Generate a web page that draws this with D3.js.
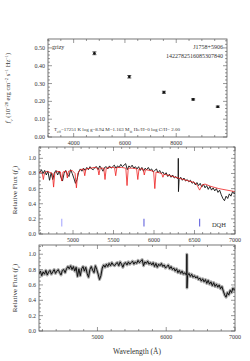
<!DOCTYPE html>
<html>
<head>
<meta charset="utf-8">
<script src="https://cdn.jsdelivr.net/npm/d3@7"></script>
<style>
  body { margin: 0; background: #fff; }
  svg { display: block; }
  text { font-family: "Liberation Serif", "DejaVu Serif", serif; fill: #333; }
</style>
</head>
<body>
<div id="chart"></div>
<script>
// photometry (grizy)
let bandWave = [4810, 6170, 7520, 8660, 9620];
let bandFlux = [0.470, 0.338, 0.251, 0.211, 0.170];
let bandErr = [0.008, 0.007, 0.006, 0.004, 0.004];

// observed spectrum, 20 A grid from 4150 A
let specStart = 4150, specStep = 20;
let specFlux = [
  0.74,0.78,0.72,0.77,0.74,0.79,0.73,0.77,0.79,0.74,
  0.77,0.80,0.75,0.78,0.80,0.76,0.73,0.79,0.80,0.76,
  0.81,0.84,0.81,0.85,0.80,0.84,0.78,0.83,0.71,0.81,
  0.72,0.81,0.84,0.78,0.83,0.75,0.70,0.80,0.84,0.79,
  0.76,0.85,0.80,0.74,0.67,0.72,0.82,0.86,0.83,0.87,
  0.84,0.88,0.85,0.89,0.86,0.85,0.88,0.89,0.85,0.90,
  0.87,0.83,0.88,0.89,0.86,0.90,0.87,0.89,0.91,0.87,
  0.90,0.88,0.92,0.89,0.91,0.93,0.85,0.90,0.88,0.91,
  0.87,0.89,0.86,0.89,0.84,0.88,0.83,0.87,0.85,0.88,
  0.84,0.86,0.82,0.84,0.86,0.81,0.84,0.80,0.82,0.78,
  0.81,0.76,0.79,0.75,0.78,0.74,0.76,0.73,0.72,0.75,
  0.71,0.74,0.70,0.72,0.69,0.71,0.67,0.69,0.65,0.68,
  0.64,0.67,0.62,0.66,0.61,0.64,0.59,0.63,0.58,0.61,
  0.57,0.60,0.55,0.58,0.52,0.47,0.44,0.50,0.47,0.53,
  0.50,0.56,0.53,0.56
];
// sky line residual near 6300 A
let skyWave = [6298, 6300, 6302];
let skyFlux = [0.74, 1.00, 0.56];

// model spectrum (red)
let modelWave = [4580,4600,4620,4634,4648,4680,4700,4745,4760,4775,4800,4845,4861,4877,4915,4930,4945,4990,
  5025,5042,5058,5090,5130,5145,5160,5220,5260,5305,5320,5335,5380,5395,5410,5460,5512,5527,5542,5600,
  5652,5667,5682,5740,5785,5800,5815,5865,5880,5895,5950,5995,6010,6025,6095,6110,6125,6200,6300,6400,
  6500,6530,6563,6596,6630,6700,6800,6900,7000];
let modelFlux = [0.81,0.82,0.80,0.72,0.81,0.83,0.82,0.80,0.62,0.80,0.83,0.82,0.70,0.82,0.83,0.74,0.83,0.84,
  0.80,0.61,0.80,0.85,0.86,0.77,0.86,0.87,0.88,0.87,0.78,0.87,0.87,0.72,0.87,0.88,0.88,0.77,0.88,0.88,
  0.87,0.64,0.87,0.87,0.86,0.72,0.86,0.86,0.78,0.85,0.84,0.83,0.60,0.82,0.80,0.75,0.79,0.77,0.74,0.71,
  0.68,0.65,0.58,0.65,0.66,0.63,0.60,0.58,0.56];

// marked lines
let lineWave = [4861, 5876, 6563];
let lineColor = ["#b0b0ff", "#7070e0", "#7070e0"];

let width = 250, height = 361;

let svg = d3.select("#chart")
  .append("svg")
  .attr("width", width)
  .attr("height", height);

let spectrum = d3.range(specFlux.length).map(i => ({w: specStart + i * specStep, f: specFlux[i]}));
skyWave.forEach((w, i) => spectrum.push({w: w, f: skyFlux[i]}));
spectrum.sort((a, b) => a.w - b.w);
let model = modelWave.map((w, i) => ({w: w, f: modelFlux[i]}));

// draws box + inward ticks on all four sides, labels on left/bottom
function frame(g, x, y, xMaj, xMin, yMaj, yMin, xFmt, yFmt) {
  let [x0, x1] = x.range(), [y1, y0] = y.range();
  let xd = x.domain(), yd = y.domain();
  g.append("rect")
    .attr("x", x0).attr("y", y0)
    .attr("width", x1 - x0).attr("height", y1 - y0)
    .attr("fill", "none").attr("stroke", "#555").attr("stroke-width", 0.8);

  let ticks = g.append("g").attr("stroke", "#555").attr("stroke-width", 0.6);
  let xt = d3.range(Math.ceil(xd[0] / xMin) * xMin, xd[1] + 1e-6, xMin);
  xt.forEach(v => {
    let len = (Math.abs(v / xMaj - Math.round(v / xMaj)) < 1e-6) ? 4 : 2;
    ticks.append("line").attr("x1", x(v)).attr("x2", x(v)).attr("y1", y1).attr("y2", y1 - len);
    ticks.append("line").attr("x1", x(v)).attr("x2", x(v)).attr("y1", y0).attr("y2", y0 + len);
  });
  let yt = d3.range(Math.ceil(yd[0] / yMin - 1e-6) * yMin, yd[1] + 1e-6, yMin);
  yt.forEach(v => {
    let len = (Math.abs(v / yMaj - Math.round(v / yMaj)) < 1e-6) ? 4 : 2;
    ticks.append("line").attr("x1", x0).attr("x2", x0 + len).attr("y1", y(v)).attr("y2", y(v));
    ticks.append("line").attr("x1", x1).attr("x2", x1 - len).attr("y1", y(v)).attr("y2", y(v));
  });

  let xl = d3.range(Math.ceil(xd[0] / xMaj) * xMaj, xd[1] + 1e-6, xMaj);
  g.selectAll(null).data(xl).enter().append("text")
    .attr("x", d => x(d)).attr("y", y1 + 8)
    .attr("text-anchor", "middle").style("font-size", "6px")
    .text(xFmt);
  let yl = d3.range(0, yd[1] + 1e-6, yMaj);
  g.selectAll(null).data(yl).enter().append("text")
    .attr("x", x0 - 3).attr("y", d => y(d) + 2)
    .attr("text-anchor", "end").style("font-size", "6px")
    .text(yFmt);
}

// ---- top panel: photometry
let x1 = d3.scaleLinear().domain([3000, 9980]).range([48, 227]);
let y1 = d3.scaleLinear().domain([0, 0.55]).range([137, 39]);
let photG = svg.append("g");
frame(photG, x1, y1, 2000, 500, 0.1, 0.02, d3.format("d"), d3.format(".2f"));

let pts = photG.selectAll(".pt").data(bandWave).enter().append("g");
pts.append("line")
  .attr("x1", d => x1(d)).attr("x2", d => x1(d))
  .attr("y1", (d, i) => y1(bandFlux[i] - bandErr[i]))
  .attr("y2", (d, i) => y1(bandFlux[i] + bandErr[i]))
  .attr("stroke", "#111").attr("stroke-width", 0.7);
pts.append("line")
  .attr("x1", d => x1(d) - 2).attr("x2", d => x1(d) + 2)
  .attr("y1", (d, i) => y1(bandFlux[i] + bandErr[i]))
  .attr("y2", (d, i) => y1(bandFlux[i] + bandErr[i]))
  .attr("stroke", "#111").attr("stroke-width", 0.7);
pts.append("line")
  .attr("x1", d => x1(d) - 2).attr("x2", d => x1(d) + 2)
  .attr("y1", (d, i) => y1(bandFlux[i] - bandErr[i]))
  .attr("y2", (d, i) => y1(bandFlux[i] - bandErr[i]))
  .attr("stroke", "#111").attr("stroke-width", 0.7);
pts.append("circle")
  .attr("cx", d => x1(d)).attr("cy", (d, i) => y1(bandFlux[i]))
  .attr("r", 1.3).attr("fill", "#111");

photG.append("text").attr("x", 52).attr("y", 49).style("font-size", "6px").text("grizy");
photG.append("text").attr("x", 223).attr("y", 49).attr("text-anchor", "end").style("font-size", "6px").text("J1758+5906");
photG.append("text").attr("x", 223).attr("y", 58).attr("text-anchor", "end").style("font-size", "6px").text("1422782516085307840");

let par = photG.append("text").attr("x", 54).attr("y", 131).style("font-size", "5px");
par.append("tspan").text("T");
par.append("tspan").attr("baseline-shift", "sub").style("font-size", "3.5px").text("eff");
par.append("tspan").text("=17251 K log g=8.94 M=1.163 M");
par.append("tspan").attr("baseline-shift", "sub").style("font-size", "3.5px").text("\u2299");
par.append("tspan").text(" He/H=0  log C/H= 2.00");

let ylab = photG.append("text")
  .attr("transform", "translate(10,88) rotate(-90)")
  .attr("text-anchor", "middle").style("font-size", "6.5px");
ylab.append("tspan").style("font-style", "italic").text("f");
ylab.append("tspan").attr("baseline-shift", "sub").style("font-size", "4.5px").text("\u03bd");
ylab.append("tspan").text(" (10");
ylab.append("tspan").attr("baseline-shift", "super").style("font-size", "4.5px").text("\u221228");
ylab.append("tspan").text(" erg cm");
ylab.append("tspan").attr("baseline-shift", "super").style("font-size", "4.5px").text("\u22122");
ylab.append("tspan").text(" s");
ylab.append("tspan").attr("baseline-shift", "super").style("font-size", "4.5px").text("\u22121");
ylab.append("tspan").text(" Hz");
ylab.append("tspan").attr("baseline-shift", "super").style("font-size", "4.5px").text("\u22121");
ylab.append("tspan").text(")");

function fluxLabel(g, cy) {
  let t = g.append("text")
    .attr("transform", `translate(17,${cy}) rotate(-90)`)
    .attr("text-anchor", "middle").style("font-size", "7px");
  t.append("tspan").text("Relative Flux (");
  t.append("tspan").style("font-style", "italic").text("f");
  t.append("tspan").attr("baseline-shift", "sub").style("font-size", "5px").text("\u03bd");
  t.append("tspan").text(")");
}

// ---- middle panel: spectrum with model
let x2 = d3.scaleLinear().domain([4580, 7000]).range([39, 235]);
let y2 = d3.scaleLinear().domain([0, 1.15]).range([234, 147]);
let midG = svg.append("g");
svg.append("clipPath").attr("id", "clip2").append("rect")
  .attr("x", 39).attr("y", 147).attr("width", 196).attr("height", 87);

let line2 = d3.line().x(d => x2(d.w)).y(d => y2(d.f));
midG.append("path").datum(spectrum).attr("clip-path", "url(#clip2)")
  .attr("d", line2).attr("fill", "none").attr("stroke", "#111")
  .attr("stroke-width", 0.9).attr("stroke-linejoin", "round");
midG.append("path").datum(model).attr("clip-path", "url(#clip2)")
  .attr("d", line2).attr("fill", "none").attr("stroke", "#ee2020")
  .attr("stroke-width", 0.8).attr("stroke-linejoin", "round");

midG.selectAll(".lm").data(lineWave).enter().append("line")
  .attr("x1", d => x2(d)).attr("x2", d => x2(d))
  .attr("y1", y2(0.1)).attr("y2", y2(0.2))
  .attr("stroke", (d, i) => lineColor[i]).attr("stroke-width", 1.2);
midG.append("text").attr("x", 226).attr("y", 227).attr("text-anchor", "end")
  .style("font-size", "6.5px").text("DQH");

frame(midG, x2, y2, 500, 100, 0.2, 0.05, d3.format("d"), d3.format(".1f"));
fluxLabel(midG, 190);

// ---- bottom panel: spectrum only
let x3 = d3.scaleLinear().domain([4150, 7000]).range([39, 235]);
let y3 = d3.scaleLinear().domain([0, 1.12]).range([331, 245]);
let botG = svg.append("g");
svg.append("clipPath").attr("id", "clip3").append("rect")
  .attr("x", 39).attr("y", 245).attr("width", 196).attr("height", 86);

let line3 = d3.line().x(d => x3(d.w)).y(d => y3(d.f));
botG.append("path").datum(spectrum).attr("clip-path", "url(#clip3)")
  .attr("d", line3).attr("fill", "none").attr("stroke", "#aaa")
  .attr("stroke-width", 3).attr("stroke-linejoin", "round");
botG.append("path").datum(spectrum).attr("clip-path", "url(#clip3)")
  .attr("d", line3).attr("fill", "none").attr("stroke", "#111")
  .attr("stroke-width", 1).attr("stroke-linejoin", "round");

frame(botG, x3, y3, 1000, 200, 0.2, 0.05, d3.format("d"), d3.format(".1f"));
fluxLabel(botG, 288);

botG.append("text").attr("x", 137).attr("y", 354).attr("text-anchor", "middle")
  .style("font-size", "7.5px").text("Wavelength (\u00c5)");
</script>
</body>
</html>
